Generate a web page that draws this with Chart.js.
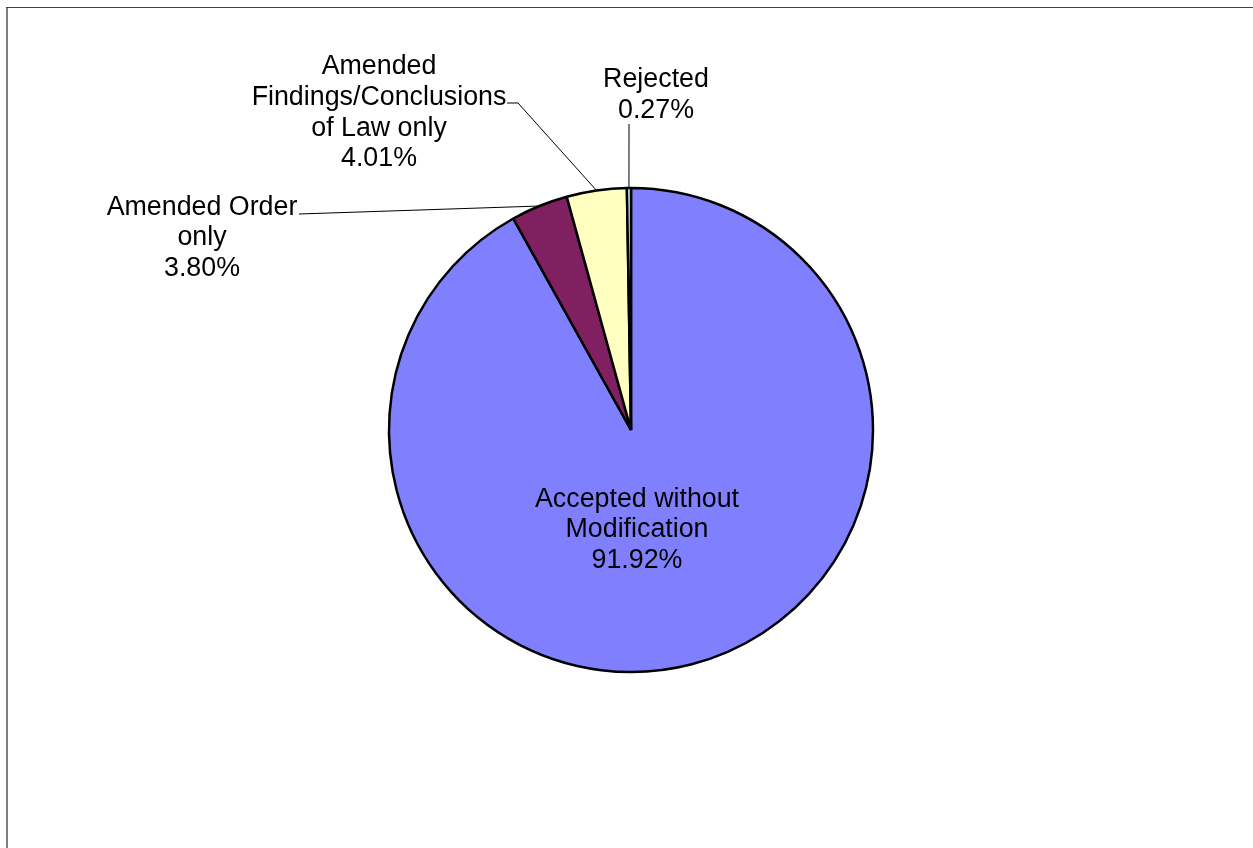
<!DOCTYPE html>
<html>
<head>
<meta charset="utf-8">
<script src="https://cdn.jsdelivr.net/npm/chart.js@4"></script>
<style>
  html, body { margin: 0; padding: 0; background: #ffffff; }
  canvas { display: block; }
</style>
</head>
<body>
<canvas id="pieChart" width="1253" height="848"></canvas>
<script>
const categories = [
    ['Accepted without', 'Modification'],
    ['Amended Order', 'only'],
    ['Amended', 'Findings/Conclusions', 'of Law only'],
    ['Rejected']
];
const shares = [91.92, 3.80, 4.01, 0.27];
const sliceColors = ['#8080ff', '#802060', '#ffffc0', '#ccffff'];

// label placement, offsets from the pie centre in px
const labelCenters = [[6, 100], [-429, -192], [-252, -317], [25, -335]];
// leader line points (from the label towards the slice); null = label sits inside
const leaderPoints = [
    null,
    [[-332, -216]],
    [[-124, -327], [-113, -327]],
    [[-2, -306]]
];

const FONT = '26.8px "Liberation Sans", Arial, sans-serif';
const LINE_H = 30.6;

const framePlugin = {
    id: 'frame',
    beforeDraw(chart) {
        const ctx = chart.ctx;
        ctx.save();
        ctx.fillStyle = '#808080';
        ctx.fillRect(6, 7, 2, chart.height - 7);
        ctx.fillStyle = '#404040';
        ctx.fillRect(6, 7, chart.width - 6, 1);
        ctx.restore();
    }
};

const pieLabels = {
    id: 'pieLabels',
    afterDatasetsDraw(chart) {
        const ctx = chart.ctx;
        const meta = chart.getDatasetMeta(0);
        ctx.save();
        meta.data.forEach((arc, i) => {
            const p = arc.getProps(['x', 'y', 'startAngle', 'endAngle', 'outerRadius'], true);
            const mid = (p.startAngle + p.endAngle) / 2;
            const edgeX = p.x + Math.cos(mid) * p.outerRadius;
            const edgeY = p.y + Math.sin(mid) * p.outerRadius;

            if (leaderPoints[i]) {
                ctx.strokeStyle = '#000000';
                ctx.lineWidth = 1;
                ctx.beginPath();
                leaderPoints[i].forEach((pt, k) => {
                    const lx = p.x + pt[0], ly = p.y + pt[1];
                    if (k === 0) ctx.moveTo(lx, ly); else ctx.lineTo(lx, ly);
                });
                ctx.lineTo(edgeX, edgeY);
                ctx.stroke();
            }

            const lines = categories[i].concat([shares[i].toFixed(2) + '%']);
            const cx = p.x + labelCenters[i][0];
            const cy = p.y + labelCenters[i][1];
            ctx.fillStyle = '#000000';
            ctx.font = FONT;
            ctx.textAlign = 'center';
            ctx.textBaseline = 'middle';
            const top = cy - (lines.length - 1) * LINE_H / 2;
            lines.forEach((t, k) => ctx.fillText(t, cx, top + k * LINE_H));
        });
        ctx.restore();
    }
};

const ctx = document.getElementById('pieChart').getContext('2d');
new Chart(ctx, {
    type: 'pie',
    data: {
        labels: categories.map(c => c.join(' ')),
        datasets: [{
            data: shares,
            backgroundColor: sliceColors,
            borderColor: '#000000',
            borderWidth: 2.5,
            radius: 242
        }]
    },
    options: {
        responsive: false,
        animation: false,
        events: [],
        layout: { padding: { top: 180, bottom: 168, left: 100, right: 91 } },
        plugins: {
            legend: { display: false },
            tooltip: { enabled: false }
        }
    },
    plugins: [framePlugin, pieLabels]
});
</script>
</body>
</html>
